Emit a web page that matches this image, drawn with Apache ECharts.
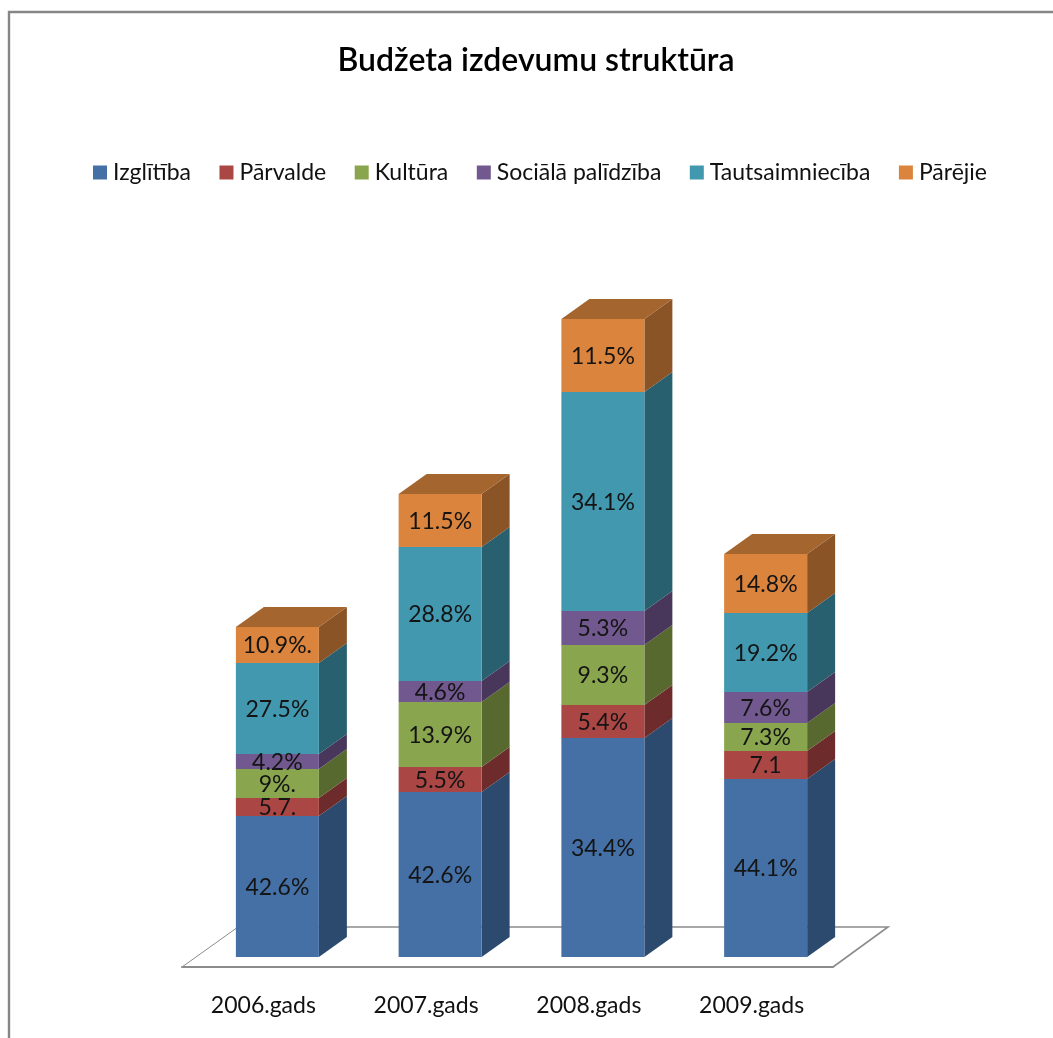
<!DOCTYPE html>
<html><head><meta charset="utf-8">
<style>html,body{margin:0;padding:0;background:#fff}#c{width:1053px;height:1038px}</style>
<script src="https://cdn.jsdelivr.net/npm/echarts@6/dist/echarts.min.js"></script>
</head><body><div id="c"></div>
<script>
const categories = ['2006.gads','2007.gads','2008.gads','2009.gads'];
const izglitiba   = [141,165,219,178];
const parvalde    = [18,25,33,28];
const kultura     = [29,65,60,28];
const sociala     = [15,21,34,31];
const tautsaimn   = [91,134,219,79];
const parejie     = [36,53,73,59];
const lblIzglitiba = ['42.6%','42.6%','34.4%','44.1%'];
const lblParvalde  = ['5.7.','5.5%','5.4%','7.1'];
const lblKultura   = ['9%.','13.9%','9.3%','7.3%'];
const lblSociala   = ['4.2%','4.6%','5.3%','7.6%'];
const lblTautsaimn = ['27.5%','28.8%','34.1%','19.2%'];
const lblParejie   = ['10.9%.','11.5%','11.5%','14.8%'];

const names = ['Izglītība','Pārvalde','Kultūra','Sociālā palīdzība','Tautsaimniecība','Pārējie'];
const values = [izglitiba,parvalde,kultura,sociala,tautsaimn,parejie];
const labels = [lblIzglitiba,lblParvalde,lblKultura,lblSociala,lblTautsaimn,lblParejie];
const front = ['#4470A6','#AA4643','#89A54E','#71588F','#4198AF','#DB843D'];
const side  = ['#2C4A6E','#6D2C2B','#58692F','#48375B','#28606F','#8A5427'];
const topFace = '#A5652F';
const FONT = 'Lato, "Open Sans", sans-serif';
const DX = 28, DY = 20, OX = 14, OY = 10, W = 41.5;

function barRender(si){
  return function(params, api){
    const i = api.value(0), y0 = api.value(1), y1 = api.value(2);
    const b = api.coord([i,y0]), t = api.coord([i,y1]);
    const cx = b[0]+OX, xl = cx-W, xr = cx+W, yb = b[1]-OY, yt = t[1]-OY;
    const kids = [
      {type:'polygon',shape:{points:[[xr,yb],[xr+DX,yb-DY],[xr+DX,yt-DY],[xr,yt]]},style:{fill:side[si]}},
      {type:'rect',shape:{x:xl,y:yt,width:W*2,height:yb-yt},style:{fill:front[si]}}
    ];
    if(si===names.length-1){
      kids.push({type:'polygon',shape:{points:[[xl,yt],[xl+DX,yt-DY],[xr+DX,yt-DY],[xr,yt]]},style:{fill:topFace}});
    }
    kids.push({type:'text',z2:10,style:{text:labels[si][i],x:cx,y:(yb+yt)/2+1,align:'center',verticalAlign:'middle',
      fontFamily:FONT,fontSize:23,fill:'#141414'}});
    return {type:'group',children:kids};
  };
}
const barSeries = names.map((n,si)=>({
  type:'custom',name:n,coordinateSystem:'cartesian2d',
  itemStyle:{color:front[si]},
  encode:{x:0,y:[1,2]},
  renderItem:barRender(si),
  data:categories.map((c,i)=>{
    let s=0; for(let k=0;k<si;k++) s+=values[k][i];
    return [i,s,s+values[si][i]];
  }),
  z:3
}));
const floorSeries = {
  type:'custom',coordinateSystem:'cartesian2d',silent:true,z:1,legendHoverLink:false,
  data:[[0,0]],encode:{x:0,y:1},
  renderItem:function(params,api){
    const cs=params.coordSys, L=cs.x, R=cs.x+cs.width, B=cs.y+cs.height;
    return {type:'group',children:[
      {type:'polyline',shape:{points:[[L,B],[L+DX*2,B-DY*2]]},style:{stroke:'#8c8c8c',lineWidth:1,fill:'none'}},
      {type:'polyline',shape:{points:[[L+DX*2,B-DY*2],[R+DX*2-1,B-DY*2],[R,B]]},style:{stroke:'#8c8c8c',lineWidth:1.6,fill:'none'}}
    ]};
  }
};
const chart = echarts.init(document.getElementById('c'),null,{renderer:'canvas'});
chart.setOption({
  animation:false,
  backgroundColor:'#fff',
  title:{text:'Budžeta izdevumu struktūra',left:531,top:40,textAlign:'center',
    textStyle:{fontFamily:FONT,fontSize:32,fontWeight:600,color:'#000'}},
  legend:{left:88,top:156,icon:'rect',itemWidth:14,itemHeight:14,itemGap:28.5,itemStyle:{},
    data:names,selectedMode:false,
    textStyle:{fontFamily:FONT,fontSize:23,color:'#111',padding:[0,0,0,1]}},
  grid:{left:182,width:651,top:267,bottom:71},
  xAxis:{type:'category',data:categories,boundaryGap:true,
    axisLine:{show:true,lineStyle:{color:'#8c8c8c',width:2}},axisTick:{show:false},
    axisLabel:{margin:27,fontFamily:FONT,fontSize:23,color:'#111'}},
  yAxis:{type:'value',min:0,max:700,show:false},
  graphic:[{type:'polyline',shape:{points:[[9,1038],[9,12],[1053,12]]},style:{stroke:'#868686',lineWidth:2.4,fill:'none'},silent:true}],
  series:[floorSeries].concat(barSeries)
});
</script></body></html>
